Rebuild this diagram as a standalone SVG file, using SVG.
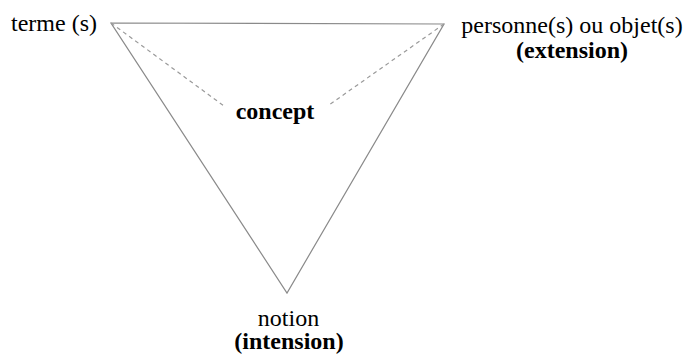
<svg xmlns="http://www.w3.org/2000/svg" width="686" height="358" viewBox="0 0 686 358">
<style>
.t{font-family:"Liberation Serif","Times New Roman",serif;font-size:24px;fill:#000}
.b{font-weight:bold}
.s{stroke:#8a8a8a;stroke-width:1.2;fill:none}
.d{stroke:#9a9a9a;stroke-width:1.2;fill:none;stroke-dasharray:4 3.5}
</style>
<rect width="686" height="358" fill="#fff"/>
<g id="connectors">
<path class="s" d="M111,23 L444,24 L287,293 Z"/>
<line class="d" x1="111" y1="23" x2="224" y2="106"/>
<line class="d" x1="444" y1="24" x2="329" y2="105"/>
</g>
<g id="terme"><text class="t" x="11" y="31">terme (s)</text></g>
<g id="personnes"><text class="t" x="572" y="33" text-anchor="middle">personne(s) ou objet(s)</text>
<text class="t b" x="572" y="58" text-anchor="middle">(extension)</text></g>
<g id="concept"><text class="t b" x="275" y="119" text-anchor="middle">concept</text></g>
<g id="notion"><text class="t" x="288.5" y="326" text-anchor="middle">notion</text>
<text class="t b" x="289" y="349" text-anchor="middle">(intension)</text></g>
</svg>
